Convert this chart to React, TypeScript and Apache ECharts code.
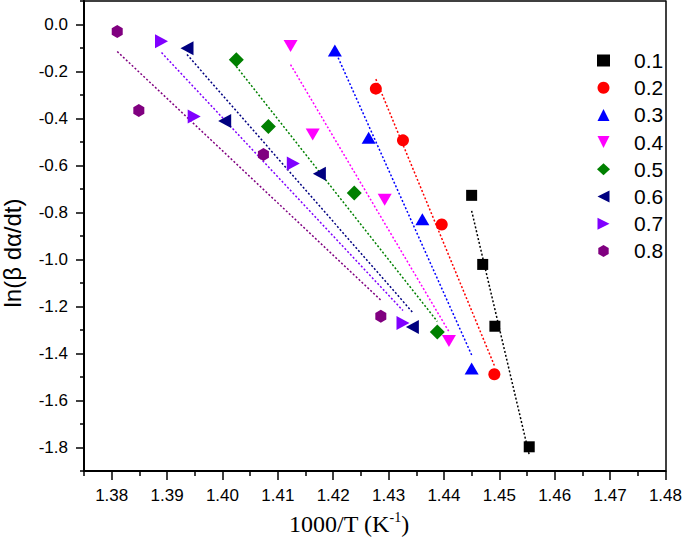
import React, { useEffect, useRef } from 'react';
import * as echarts from 'echarts';

const seriesNames = ['0.1', '0.2', '0.3', '0.4', '0.5', '0.6', '0.7', '0.8'];
const colors = ['#000000', '#ff0000', '#0000ff', '#ff00ff', '#008000', '#000080', '#8000ff', '#800080'];

const x01 = [1.445, 1.447, 1.4492, 1.4554];
const y01 = [-0.727, -1.021, -1.284, -1.797];
const x02 = [1.4277, 1.4326, 1.4396, 1.4491];
const y02 = [-0.273, -0.493, -0.851, -1.488];
const x03 = [1.4203, 1.4264, 1.4361, 1.445];
const y03 = [-0.111, -0.482, -0.829, -1.464];
const x04 = [1.4123, 1.4163, 1.4293, 1.4409];
const y04 = [-0.092, -0.468, -0.746, -1.347];
const x05 = [1.4025, 1.4083, 1.4238, 1.4388];
const y05 = [-0.15, -0.434, -0.717, -1.308];
const x06 = [1.3936, 1.4004, 1.4175, 1.4343];
const y06 = [-0.101, -0.411, -0.635, -1.287];
const x07 = [1.389, 1.3949, 1.4128, 1.4326];
const y07 = [-0.071, -0.391, -0.592, -1.27];
const x08 = [1.381, 1.3849, 1.4074, 1.4286];
const y08 = [-0.03, -0.366, -0.553, -1.242];

const xValues = [x01, x02, x03, x04, x05, x06, x07, x08];
const yValues = [y01, y02, y03, y04, y05, y06, y07, y08];

const xMajorTicks = [1.38, 1.39, 1.4, 1.41, 1.42, 1.43, 1.44, 1.45, 1.46, 1.47, 1.48];
const xMinorTicks = [1.375, 1.385, 1.395, 1.405, 1.415, 1.425, 1.435, 1.445, 1.455, 1.465, 1.475];
const yMajorTicks = [-1.8, -1.6, -1.4, -1.2, -1.0, -0.8, -0.6, -0.4, -0.2, 0.0];
const yMinorTicks = [-1.9, -1.7, -1.5, -1.3, -1.1, -0.9, -0.7, -0.5, -0.3, -0.1, 0.1];

const HEX = 'path://M0,-1 L0.866,-0.5 L0.866,0.5 L0,1 L-0.866,0.5 L-0.866,-0.5 Z';
const TRI_UP = 'path://M0,-1 L1,1 L-1,1 Z';
const TRI_DOWN = 'path://M-1,-1 L1,-1 L0,1 Z';
const TRI_LEFT = 'path://M-1,0 L1,-1 L1,1 Z';
const TRI_RIGHT = 'path://M-1,-1 L1,0 L-1,1 Z';
const symbols = ['rect', 'circle', TRI_UP, TRI_DOWN, 'diamond', TRI_LEFT, TRI_RIGHT, HEX];
const symbolSizes: any[] = [11, 12, [14, 12], [14, 12], 15, [13, 14], [13, 14], [11, 13]];

function fitLine(xs: number[], ys: number[]) {
  const n = xs.length;
  const mx = xs.reduce((a, b) => a + b, 0) / n;
  const my = ys.reduce((a, b) => a + b, 0) / n;
  let sxy = 0;
  let sxx = 0;
  for (let i = 0; i < n; i++) {
    sxy += (xs[i] - mx) * (ys[i] - my);
    sxx += (xs[i] - mx) * (xs[i] - mx);
  }
  const b = sxy / sxx;
  const a = my - b * mx;
  const lo = Math.min(...xs);
  const hi = Math.max(...xs);
  return [
    [lo, a + b * lo],
    [hi, a + b * hi],
  ];
}

const SANS = '"Liberation Sans", Arial, Helvetica, sans-serif';
const SERIF = '"Liberation Serif", "Times New Roman", serif';

export default function App() {
  const ref = useRef<HTMLDivElement>(null);
  useEffect(() => {
    document.body.style.margin = '0';
    if (!ref.current) return;
    const chart = echarts.init(ref.current, undefined, { renderer: 'svg' });
    const series: any[] = [];
    seriesNames.forEach((name, i) => {
      series.push({
        type: 'line',
        name: 'fit' + name,
        data: fitLine(xValues[i], yValues[i]),
        symbol: 'none',
        showSymbol: false,
        silent: true,
        z: 2,
        lineStyle: { color: colors[i], width: 1.5, type: [2, 2] },
      });
    });
    seriesNames.forEach((name, i) => {
      series.push({
        type: 'scatter',
        name,
        data: xValues[i].map((x, j) => [x, yValues[i][j]]),
        symbol: symbols[i],
        symbolSize: symbolSizes[i],
        itemStyle: { color: colors[i], opacity: 1 },
        z: 3,
      });
    });
    const axisLine = { show: true, onZero: false, lineStyle: { color: '#000', width: 2 } };
    const frameLine = { show: true, onZero: false, lineStyle: { color: '#000', width: 1.5 } };
    chart.setOption({
      animation: false,
      backgroundColor: '#fff',
      grid: { left: 84, top: 1, right: 18, bottom: 66 },
      legend: {
        data: seriesNames,
        orient: 'vertical',
        left: 592,
        top: 45,
        itemWidth: 13,
        itemHeight: 12,
        itemGap: 6.2,
        textStyle: { fontSize: 21, color: '#000', fontFamily: SANS, padding: [0, 0, 0, 19] },
      },
      xAxis: [
        {
          type: 'value',
          min: 1.375,
          max: 1.48,
          position: 'bottom',
          axisLine,
          axisTick: { show: true, customValues: xMajorTicks, length: 9, lineStyle: { color: '#000', width: 1.5 } },
          axisLabel: {
            customValues: xMajorTicks,
            formatter: (v: number) => v.toFixed(2),
            fontSize: 17,
            color: '#000',
            fontFamily: SANS,
            margin: 16,
          },
          splitLine: { show: false },
        },
        {
          type: 'value',
          min: 1.375,
          max: 1.48,
          position: 'bottom',
          axisLine: { show: false, onZero: false },
          axisTick: { show: true, customValues: xMinorTicks, length: 5, lineStyle: { color: '#000', width: 1.5 } },
          axisLabel: { show: false },
          splitLine: { show: false },
        },
        {
          type: 'value',
          min: 1.375,
          max: 1.48,
          position: 'top',
          axisLine: frameLine,
          axisTick: { show: false },
          axisLabel: { show: false },
          splitLine: { show: false },
        },
      ],
      yAxis: [
        {
          type: 'value',
          min: -1.9,
          max: 0.1,
          position: 'left',
          axisLine,
          axisTick: { show: true, customValues: yMajorTicks, length: 8, lineStyle: { color: '#000', width: 1.5 } },
          axisLabel: {
            customValues: yMajorTicks,
            formatter: (v: number) => v.toFixed(1),
            fontSize: 17,
            color: '#000',
            fontFamily: SANS,
            margin: 16,
          },
          splitLine: { show: false },
        },
        {
          type: 'value',
          min: -1.9,
          max: 0.1,
          position: 'left',
          axisLine: { show: false, onZero: false },
          axisTick: { show: true, customValues: yMinorTicks, length: 4, lineStyle: { color: '#000', width: 1.5 } },
          axisLabel: { show: false },
          splitLine: { show: false },
        },
        {
          type: 'value',
          min: -1.9,
          max: 0.1,
          position: 'right',
          axisLine: frameLine,
          axisTick: { show: false },
          axisLabel: { show: false },
          splitLine: { show: false },
        },
      ],
      graphic: [
        {
          type: 'text',
          x: 12,
          y: 253,
          rotation: Math.PI / 2,
          style: {
            text: 'ln(β dα/dt)',
            font: '24px "Liberation Sans", Arial, sans-serif',
            fill: '#000',
            align: 'center',
            verticalAlign: 'middle',
          },
        },
        {
          type: 'text',
          x: 349,
          y: 524,
          style: {
            text: '{a|1000/T (K}{s|-1}{a|)}',
            rich: {
              a: { fontSize: 24, fontFamily: SERIF, fill: '#000' },
              s: { fontSize: 14, fontFamily: SERIF, fill: '#000', padding: [0, 0, 13, 0] },
            },
            align: 'center',
            verticalAlign: 'middle',
          },
        },
      ],
      series,
    });
    return () => chart.dispose();
  }, []);
  return <div ref={ref} style={{ width: 685, height: 537 }} />;
}
